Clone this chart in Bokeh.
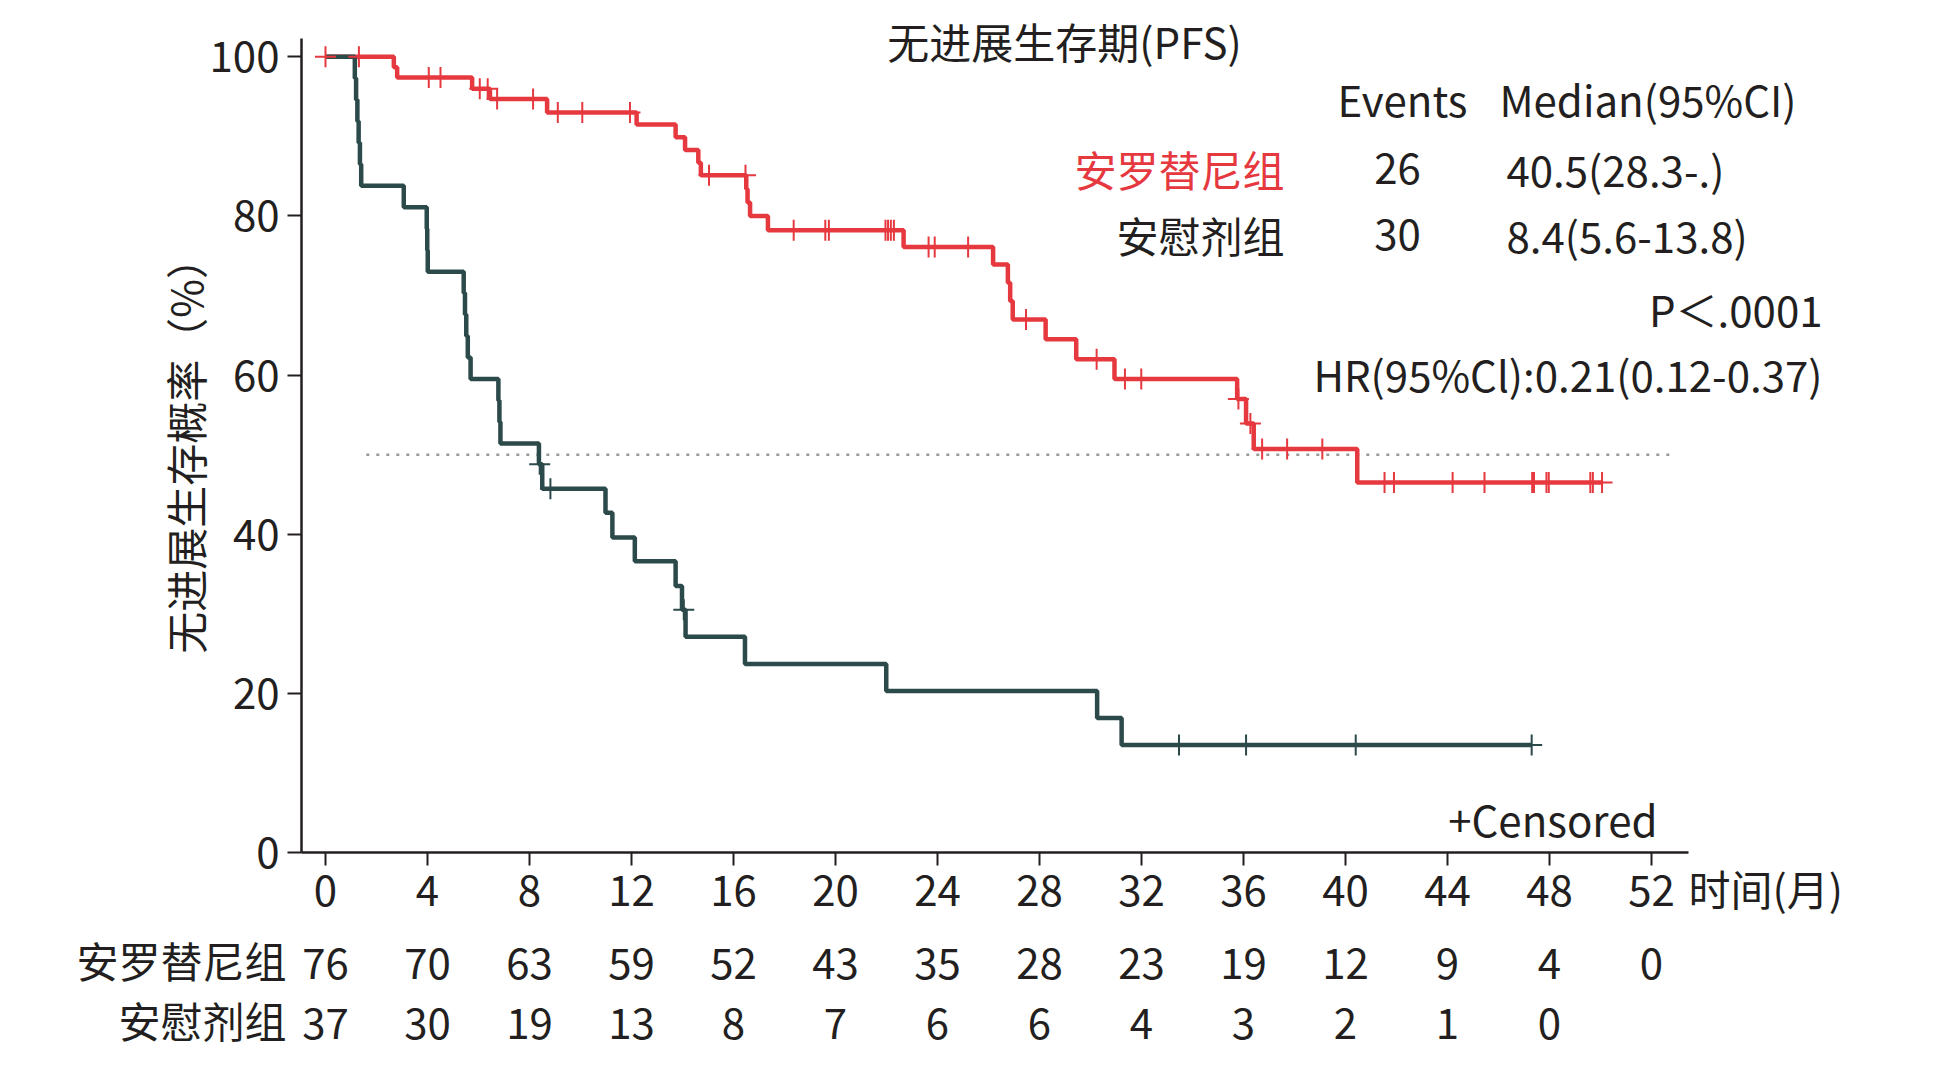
import numpy as np
from bokeh.plotting import figure
from bokeh.models import Label, LabelSet, ColumnDataSource, FixedTicker, Range1d, LinearAxis
from bokeh.core.properties import value
from bokeh.embed import file_html
from bokeh.resources import INLINE

# ---------------- data ----------------
time_ticks = [0, 4, 8, 12, 16, 20, 24, 28, 32, 36, 40, 44, 48, 52]
pct_ticks = [0, 20, 40, 60, 80, 100]

group_names = ["安罗替尼组", "安慰剂组"]
group_events = ["26", "30"]
group_medians = ["40.5(28.3-.)", "8.4(5.6-13.8)"]

# Anlotinib arm: event times (months) and survival (%) after each step
anlo_times = [0, 2.68, 2.81, 5.75, 6.45, 8.69, 12.2, 13.73, 14.1, 14.62, 14.72,
              16.5, 16.55, 16.65, 17.35, 22.67, 26.18, 26.76, 26.85, 26.95,
              28.24, 29.44, 30.94, 35.75, 36.1, 36.4, 40.46]
anlo_surv = [100, 98.7, 97.4, 96.0, 94.7, 93.0, 91.5, 89.9, 88.3, 86.7, 85.1,
             83.4, 81.7, 80.0, 78.2, 76.1, 73.9, 71.6, 69.3, 67.0,
             64.5, 62.0, 59.5, 57.0, 53.9, 50.7, 46.5]
anlo_last = 50.06
anlo_censor = [0, 1.31, 4.05, 4.51, 6.05, 6.36, 6.73, 8.14, 9.11, 10.07, 11.94,
               15.04, 16.47, 18.36, 19.6, 19.74, 21.96, 22.06, 22.17, 22.29,
               23.65, 23.89, 25.2, 27.47, 30.24, 31.35, 31.99, 35.8, 36.27,
               36.73, 37.71, 39.09, 41.53, 41.9, 44.2, 45.45, 47.32, 47.39,
               47.88, 47.97, 49.6, 49.7, 50.06]

# Placebo arm
plac_times = [0, 1.15, 1.2, 1.25, 1.3, 1.35, 1.4, 3.07, 3.97, 3.99, 4.01,
              5.42, 5.47, 5.52, 5.58, 5.69, 6.78, 6.82, 6.86, 8.37, 8.5,
              10.98, 11.25, 12.13, 13.73, 13.98, 14.12, 16.45, 21.99, 30.26, 31.22]
plac_surv = [100, 97.3, 94.6, 91.9, 89.2, 86.5, 83.8, 81.1, 78.4, 75.7, 73.0,
             70.3, 67.6, 64.9, 62.2, 59.5, 56.8, 54.1, 51.4, 48.8, 45.7,
             42.7, 39.6, 36.6, 33.5, 30.5, 27.1, 23.7, 20.3, 16.9, 13.5]
plac_last = 47.3
plac_censor = [8.4, 8.82, 14.05, 33.47, 36.1, 40.4, 47.3]

median_x = [1.6, 52.9]
median_y = [50, 50]

risk_anlo = [76, 70, 63, 59, 52, 43, 35, 28, 23, 19, 12, 9, 4, 0]
risk_plac = [37, 30, 19, 13, 8, 7, 6, 6, 4, 3, 2, 1, 0]

# ---------------- style ----------------
RED = "#e6383f"
DARK = "#2d4a4b"
TXT = "#231f20"
FONT = "Noto Sans CJK SC"
FS = "42px"
W, H = 1956, 1069

# axis box in pixels and its data extent
X0, X1 = -0.941, 53.45
Y0, Y1 = 0, 102.3
FL, FR, FT, FB = 301, 1688, 38, 852
KX = (X1 - X0) / (FR - FL)
KY = (Y1 - Y0) / (FB - FT)
XS, XE = X0 - FL * KX, X1 + (W - FR) * KX
YS, YE = Y0 - (H - FB) * KY, Y1 + FT * KY
SHIFT = -19  # baseline correction for Label annotations (px)


def dx(px):
    return X0 + (px - FL) * KX


def dy(py, shift=SHIFT):
    return Y0 + (FB - (py + shift)) * KY


def surv_at(t, times, surv):
    i = np.searchsorted(np.array(times), t, side="right") - 1
    return surv[i]


p = figure(width=W, height=H, x_range=Range1d(XS, XE), y_range=Range1d(YS, YE),
           output_backend="svg", toolbar_location=None,
           x_axis_location=None, y_axis_location=None, min_border=0)
p.title.visible = False
p.outline_line_color = None
p.background_fill_color = "white"
p.border_fill_color = "white"
p.xgrid.visible = False
p.ygrid.visible = False

xaxis = LinearAxis(fixed_location=0, bounds=(X0, X1), ticker=FixedTicker(ticks=time_ticks))
yaxis = LinearAxis(fixed_location=X0, bounds=(Y0, Y1), ticker=FixedTicker(ticks=pct_ticks))
for ax in (xaxis, yaxis):
    ax.axis_line_color = TXT
    ax.axis_line_width = 2.5
    ax.major_tick_line_color = TXT
    ax.major_tick_line_width = 2
    ax.major_tick_in = 0
    ax.minor_tick_line_color = None
    ax.major_label_text_font = FONT
    ax.major_label_text_font_size = FS
    ax.major_label_text_color = TXT
xaxis.major_tick_out = 13
yaxis.major_tick_out = 14
xaxis.major_label_standoff = 9
yaxis.major_label_standoff = 8

yaxis.axis_label = "无进展生存概率（%）"
yaxis.axis_label_text_font = FONT
yaxis.axis_label_text_font_size = FS
yaxis.axis_label_text_font_style = "normal"
yaxis.axis_label_text_color = TXT
yaxis.axis_label_standoff = -8
p.add_layout(xaxis, "below")
p.add_layout(yaxis, "left")

# median reference line
p.line(median_x, median_y, line_color="#9a9a9a", line_width=2.5, line_dash="3 7")

# curves
p.step(anlo_times + [anlo_last], anlo_surv + [anlo_surv[-1]], mode="after",
       line_color=RED, line_width=4.5)
p.step(plac_times + [plac_last], plac_surv + [plac_surv[-1]], mode="after",
       line_color=DARK, line_width=4.5)

anlo_cy = [surv_at(t, anlo_times, anlo_surv) for t in anlo_censor]
plac_cy = [surv_at(t, plac_times, plac_surv) for t in plac_censor]
p.scatter(anlo_censor, anlo_cy, marker="cross", size=21, line_width=2, line_color=RED)
p.scatter(plac_censor, plac_cy, marker="cross", size=21, line_width=2, line_color=DARK)


def lab(text, px, py, align="left", color=TXT):
    p.add_layout(Label(x=dx(px), y=dy(py), text=text, text_align=align,
                       text_baseline="alphabetic", text_font=FONT,
                       text_font_size=FS, text_color=color))


lab("无进展生存期(PFS)", 1064, 59, "center")
lab("Events", 1402, 117, "center")
lab("Median(95%CI)", 1499, 117, "left")
lab(group_names[0], 1284, 187, "right", RED)
lab(group_names[1], 1284, 253, "right")
lab(group_events[0], 1397, 187, "center")
lab(group_events[1], 1397, 253, "center")
lab(group_medians[0], 1506, 187, "left")
lab(group_medians[1], 1506, 253, "left")
lab("P＜.0001", 1822, 327, "right")
lab("HR(95%Cl):0.21(0.12-0.37)", 1822, 392, "right")
lab("+Censored", 1657, 837, "right")
lab("时间(月)", 1688, 906, "left")

# number-at-risk table
lab(group_names[0], 286, 978, "right")
lab(group_names[1], 286, 1038, "right")
src1 = ColumnDataSource(dict(x=time_ticks[:len(risk_anlo)], t=[str(v) for v in risk_anlo]))
src2 = ColumnDataSource(dict(x=time_ticks[:len(risk_plac)], t=[str(v) for v in risk_plac]))
for src, py in ((src1, 978), (src2, 1038)):
    p.add_layout(LabelSet(x="x", y=dy(py, 0), text="t", source=src, text_align="center",
                          text_baseline="alphabetic", text_font=value(FONT),
                          text_font_size=value(FS), text_color=TXT))

open("out.html", "w").write(file_html(p, INLINE))
